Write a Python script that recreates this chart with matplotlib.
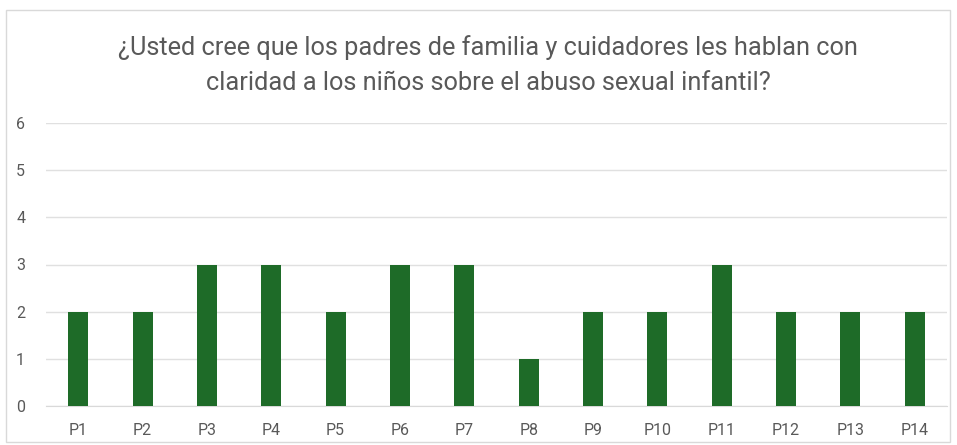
import matplotlib
matplotlib.use("Agg")
import matplotlib.pyplot as plt
from matplotlib.patches import Rectangle

categories = ["P1", "P2", "P3", "P4", "P5", "P6", "P7", "P8", "P9", "P10", "P11", "P12", "P13", "P14"]
values = [2, 2, 3, 3, 2, 3, 3, 1, 2, 2, 3, 2, 2, 2]
title = "¿Usted cree que los padres de familia y cuidadores les hablan con\nclaridad a los niños sobre el abuso sexual infantil?"

plt.rcParams['font.family'] = ['Roboto', 'DejaVu Sans']

fig = plt.figure(figsize=(9.57, 4.45), dpi=100)
fig.patches.append(Rectangle((6/957, 3/445), 944/957, 432/445, transform=fig.transFigure,
                             fill=False, edgecolor='#d9d9d9', linewidth=1))
ax = fig.add_axes([46/957, 1-406/445, 901/957, (406-123)/445])
x = list(range(len(categories)))
ax.bar(x, values, width=0.31, color='#1e6b28', zorder=3)
ax.set_xlim(-0.5, len(categories)-0.5)
ax.set_ylim(0, 6)
ax.set_yticks(range(0, 7))
ax.set_xticks(x)
ax.set_xticklabels(categories)
ax.grid(axis='y', color='#e0e0e0', linewidth=1, zorder=0)
for s in ['top', 'right', 'left']:
    ax.spines[s].set_visible(False)
ax.spines['bottom'].set_color('#d9d9d9')
ax.tick_params(axis='both', length=0, colors='#595959', labelsize=11.5)
ax.tick_params(axis='x', pad=12)
ax.tick_params(axis='y', pad=15)
fig.text(488/957, 1-65/445, title, ha='center', va='center', fontsize=18.3, color='#595959',
         linespacing=1.6)
fig.savefig("out.png", dpi=100)
